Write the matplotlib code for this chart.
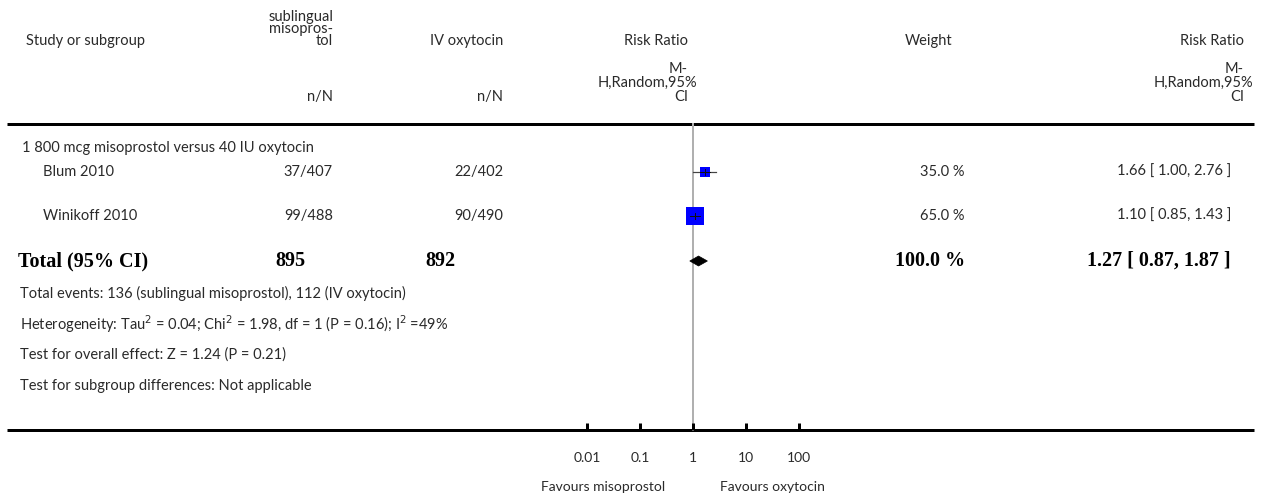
import matplotlib
matplotlib.use("Agg")
import matplotlib.pyplot as plt
from matplotlib.patches import Polygon

# ---------------- data ----------------
subgroup_label = "1 800 mcg misoprostol versus 40 IU oxytocin"
studies = ["Blum 2010", "Winikoff 2010"]
miso_nN = ["37/407", "99/488"]
oxy_nN = ["22/402", "90/490"]
rr = [1.66, 1.10]
rr_lo = [1.00, 0.85]
rr_hi = [2.76, 1.43]
weights = [35.0, 65.0]
total_miso = 895
total_oxy = 892
total_rr, total_lo, total_hi = 1.27, 0.87, 1.87
tick_values = [0.01, 0.1, 1, 10, 100]
tick_labels = ["0.01", "0.1", "1", "10", "100"]
footnotes = [
    "Total events: 136 (sublingual misoprostol), 112 (IV oxytocin)",
    "Heterogeneity: Tau$^2$ = 0.04; Chi$^2$ = 1.98, df = 1 (P = 0.16); I$^2$ =49%",
    "Test for overall effect: Z = 1.24 (P = 0.21)",
    "Test for subgroup differences: Not applicable",
]
favours_left = "Favours misoprostol"
favours_right = "Favours oxytocin"

# ---------------- layout ----------------
W, H = 1266, 499
fig = plt.figure(figsize=(W / 100, H / 100), dpi=100)
ax0 = fig.add_axes([0, 0, 1, 1])
ax0.set_xlim(0, W)
ax0.set_ylim(H, 0)
ax0.axis("off")

FONT = "Lato"
SERIF = "Liberation Serif"
TXT = "#2a2a2a"
fs = 10.5
PX = 0.72  # points per pixel

# forest axis: 1 at x=693, 53 px per decade
x_one, px_dec = 693, 53
fx0, fx1 = 540, 850
ax1 = fig.add_axes([fx0 / W, 0, (fx1 - fx0) / W, 1])
ax1.set_xscale("log")
ax1.set_xlim(10 ** ((fx0 - x_one) / px_dec), 10 ** ((fx1 - x_one) / px_dec))
ax1.set_ylim(H, 0)
ax1.axis("off")


def t(x, y, s, ha="left", **kw):
    kw.setdefault("fontsize", fs)
    kw.setdefault("family", FONT)
    kw.setdefault("color", TXT)
    ax0.text(x, y, s, ha=ha, va="center", **kw)


# header
t(26, 41, "Study or subgroup")
t(333, 17, "sublingual", ha="right")
t(333, 29, "misopros-", ha="right")
t(333, 41, "tol", ha="right")
t(503, 41, "IV oxytocin", ha="right")
t(333, 97, "n/N", ha="right")
t(503, 97, "n/N", ha="right")
for xr in (688, 1244):
    t(xr, 41, "Risk Ratio", ha="right")
    t(xr, 69, "M-", ha="right")
    t(xr + 9, 83, "H,Random,95%", ha="right")
    t(xr, 97, "CI", ha="right")
t(929, 41, "Weight", ha="center")

ax0.plot([7, 1254], [124, 124], color="black", lw=3 * PX, solid_capstyle="butt")
ax0.plot([7, 1254], [430, 430], color="black", lw=3 * PX, solid_capstyle="butt")

# rows
t(22, 148, subgroup_label)
row_y = [172, 216]
for i, y in enumerate(row_y):
    t(43, y, studies[i])
    t(333, y, miso_nN[i], ha="right")
    t(503, y, oxy_nN[i], ha="right")
    t(965, y, f"{weights[i]:.1f} %", ha="right")
    t(1231, y, f"{rr[i]:.2f} [ {rr_lo[i]:.2f}, {rr_hi[i]:.2f} ]", ha="right")

ty = 261
tb = dict(family=SERIF, fontweight="bold", color="black", fontsize=14.5)
t(18, ty, "Total (95% CI)", **tb)
t(305, ty, f"{total_miso}", ha="right", **tb)
t(455, ty, f"{total_oxy}", ha="right", **tb)
t(965, ty, f"{sum(weights):.1f} %", ha="right", **tb)
t(1231, ty, f"{total_rr:.2f} [ {total_lo:.2f}, {total_hi:.2f} ]", ha="right", **tb)

for k, s in enumerate(footnotes):
    t(20, 293 + 31 * k, s)

# forest marks
ax1.plot([1, 1], [124, 430], color="#b0b0b0", lw=2 * PX, zorder=1)
for i, y in enumerate(row_y):
    side = 18 * (weights[i] / max(weights)) ** 0.8
    ax1.plot([rr_lo[i], rr_hi[i]], [y, y], color="#444444", lw=1.2 * PX, zorder=2)
    ax1.plot(rr[i], y, marker="s", markersize=side * PX, color="#0000ff",
             markeredgewidth=0, linestyle="none", zorder=3)
    ax1.plot([max(rr_lo[i], rr[i] / 1.25), min(rr_hi[i], rr[i] * 1.25)], [y, y],
             color="#111111", lw=1.0 * PX, zorder=4)
    ax1.plot([rr[i], rr[i]], [y - 3, y + 3], color="#111111", lw=1.0 * PX, zorder=4)

dia = Polygon([[total_lo, ty], [total_rr, ty - 5], [total_hi, ty], [total_rr, ty + 5]],
              closed=True, facecolor="black", edgecolor="black", lw=0.5, zorder=3)
ax1.add_patch(dia)

# axis ticks
ax1.vlines(tick_values, 423, 430, color="black", lw=3 * PX)
for v, lab in zip(tick_values, tick_labels):
    ax1.text(v, 458, lab, ha="center", va="center", fontsize=fs - 0.5, family=FONT, color=TXT)
ax1.text(10 ** ((603 - x_one) / px_dec), 487, favours_left, ha="center", va="center",
         fontsize=fs - 0.5, family=FONT, color=TXT)
ax1.text(10 ** ((772 - x_one) / px_dec), 487, favours_right, ha="center", va="center",
         fontsize=fs - 0.5, family=FONT, color=TXT)

fig.savefig("out.png", dpi=100)
